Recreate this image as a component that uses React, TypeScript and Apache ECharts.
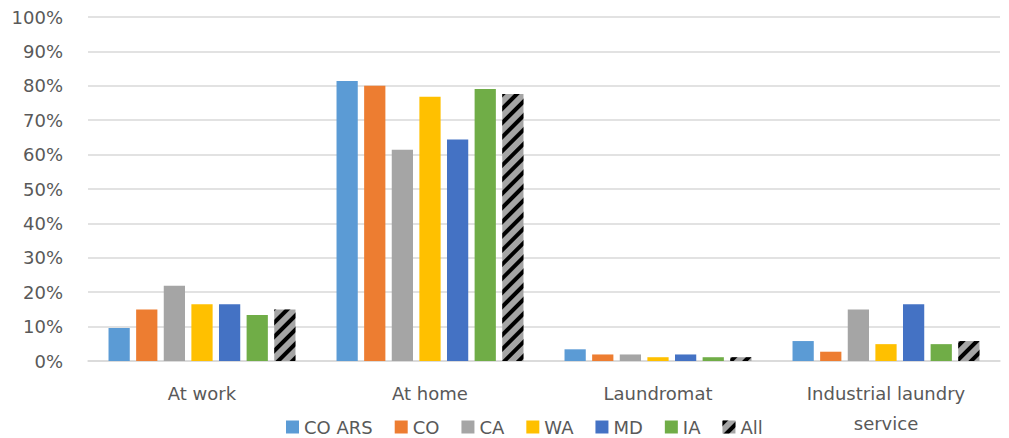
import React, { useEffect, useRef } from "react";
import * as echarts from "echarts";

const categories = ["At work", "At home", "Laundromat", "Industrial laundry service"];
const seriesNames = ["CO ARS", "CO", "CA", "WA", "MD", "IA", "All"];
const colors = ["#5B9BD5", "#ED7D31", "#A5A5A5", "#FFC000", "#4472C4", "#70AD47", "#A5A5A5"];
const coArs = [9.6, 81.4, 3.4, 5.8];
const co = [15.0, 80.0, 1.9, 2.7];
const ca = [21.9, 61.4, 1.9, 15.0];
const wa = [16.5, 76.8, 1.1, 4.9];
const md = [16.5, 64.4, 1.9, 16.5];
const ia = [13.4, 79.1, 1.1, 4.9];
const all = [15.0, 77.6, 1.1, 5.8];
const seriesData = [coArs, co, ca, wa, md, ia, all];

const FONT = "DejaVu Sans";
const TEXT = "#595959";

export default function App() {
  const ref = useRef<HTMLDivElement>(null);
  useEffect(() => {
    document.body.style.margin = "0";
    const chart = echarts.init(ref.current!, null, { renderer: "svg" });
    chart.setOption({
      animation: false,
      aria: { enabled: false, decal: { show: false } },
      grid: { left: 88, right: 9, top: 17, bottom: 76 },
      legend: {
        left: 281,
        bottom: 1,
        padding: [0, 5],
        itemWidth: 13,
        itemHeight: 13,
        itemGap: 22,
        icon: "rect",
        textStyle: { fontFamily: FONT, fontSize: 18, color: TEXT, lineHeight: 20 },
        data: seriesNames,
      },
      xAxis: {
        type: "category",
        data: categories,
        axisLine: { lineStyle: { color: "#D9D9D9", width: 1.5 } },
        axisTick: { show: false },
        axisLabel: {
          fontFamily: FONT,
          fontSize: 18,
          color: TEXT,
          margin: 17,
          lineHeight: 30,
          formatter: (v: string) => (v === "Industrial laundry service" ? "Industrial laundry\nservice" : v),
        },
      },
      yAxis: {
        type: "value",
        min: 0,
        max: 100,
        interval: 10,
        axisLabel: { formatter: "{value}%", fontFamily: FONT, fontSize: 18, color: TEXT, margin: 25 },
        splitLine: { lineStyle: { color: "#D9D9D9", width: 1.5 } },
        axisLine: { show: false },
        axisTick: { show: false },
      },
      series: seriesNames.map((name, i) => ({
        name,
        type: "bar",
        data: seriesData[i],
        barGap: "30%",
        barCategoryGap: "18%",
        itemStyle: {
          color: colors[i],
          decal:
            name === "All"
              ? {
                  symbol: "rect",
                  symbolSize: 1,
                  color: "#000000",
                  dashArrayX: [1, 0],
                  dashArrayY: [4, 6],
                  rotation: -Math.PI / 4,
                }
              : undefined,
        },
      })),
    });
    return () => chart.dispose();
  }, []);
  return <div ref={ref} style={{ width: 1009, height: 438 }} />;
}
